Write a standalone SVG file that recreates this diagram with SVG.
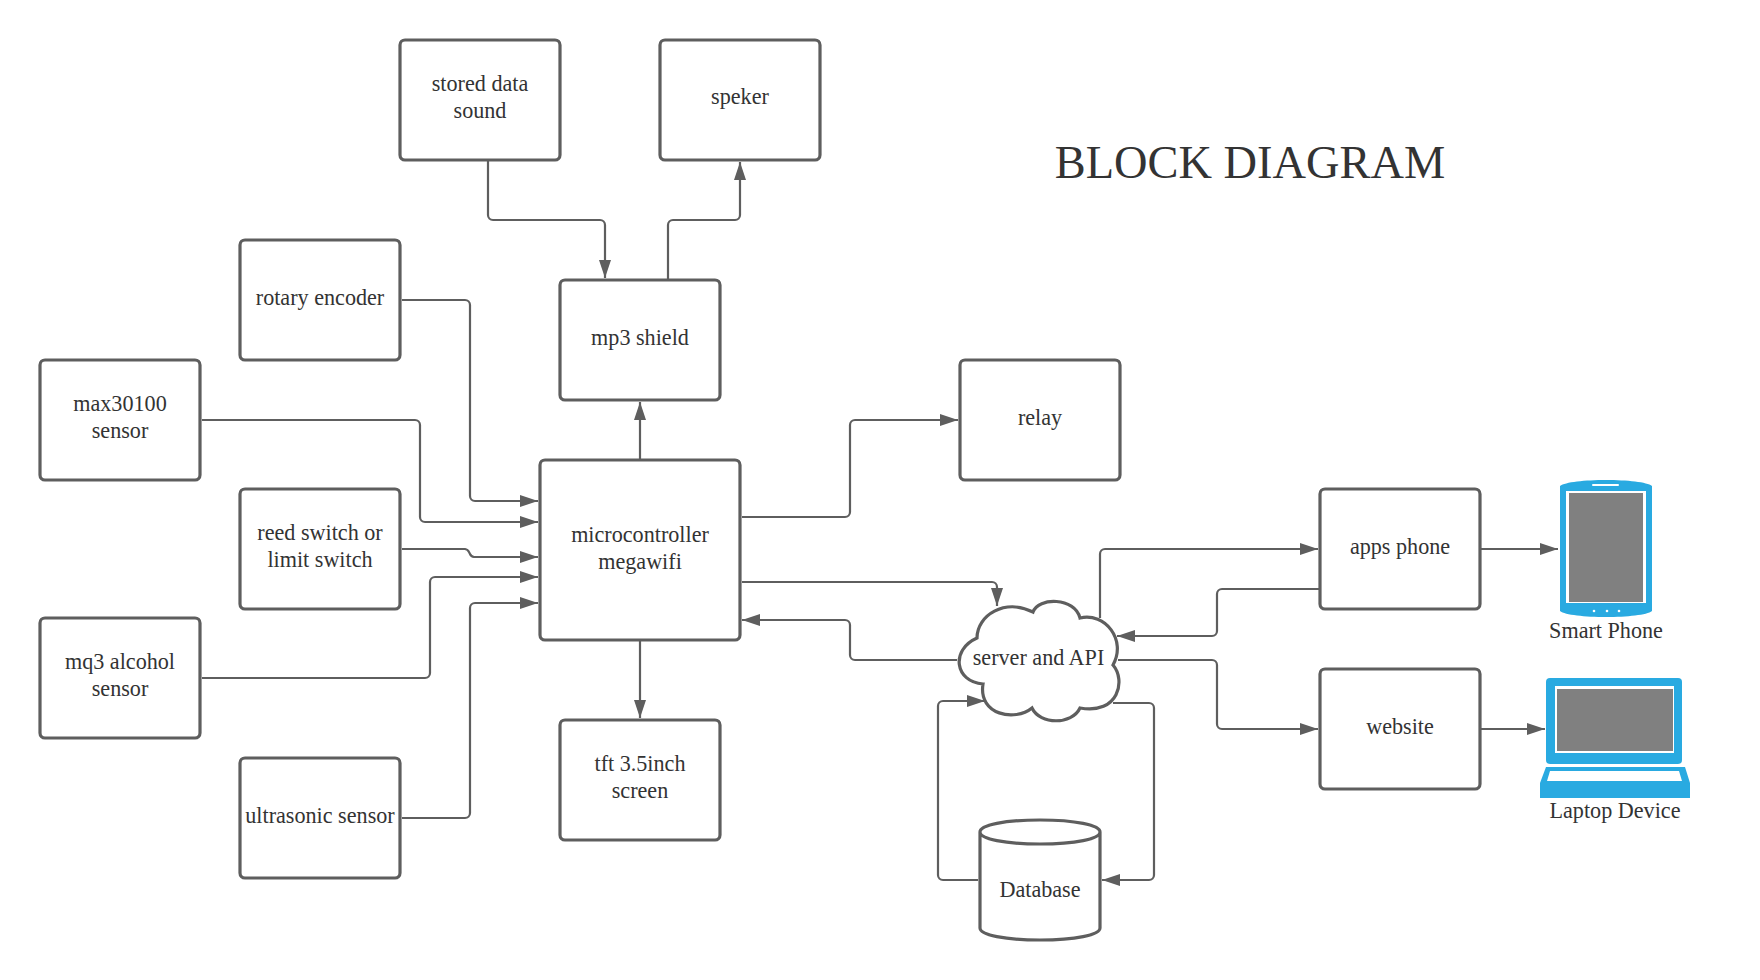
<svg xmlns="http://www.w3.org/2000/svg" width="1760" height="980" viewBox="0 0 1760 980">
<style>
text{font-family:"Liberation Serif","Times New Roman",serif;font-size:22.15px;fill:#333;text-anchor:middle}
.b{fill:#fff;stroke:#5e5e5e;stroke-width:3.2}
.c{fill:none;stroke:#5e5e5e;stroke-width:2.2;stroke-linejoin:round}
.a{marker-end:url(#ah)}
.blue{fill:#29aae1}.w{fill:#fff}.g{fill:#808080}
</style>
<defs><marker id="ah" markerUnits="userSpaceOnUse" markerWidth="18" markerHeight="12" refX="18" refY="6" orient="auto"><path d="M0 0L18 6L0 12Z" fill="#5e5e5e"/></marker></defs>
<rect width="1760" height="980" fill="#fff"/>
<g id="connectors">
<path class="c a" d="M488 161V215a5 5 0 0 0 5 5H600a5 5 0 0 1 5 5V278"/>
<path class="c a" d="M668 280V225a5 5 0 0 1 5-5H735a5 5 0 0 0 5-5V162"/>
<path class="c a" d="M402 300H465a5 5 0 0 1 5 5V496a5 5 0 0 0 5 5H538"/>
<path class="c a" d="M202 420H415a5 5 0 0 1 5 5V517a5 5 0 0 0 5 5H538"/>
<path class="c a" d="M402 549H465a5 5 0 0 1 4 3l1 2a5 5 0 0 0 4 3H538"/>
<path class="c a" d="M202 678H425a5 5 0 0 0 5-5V582a5 5 0 0 1 5-5H538"/>
<path class="c a" d="M402 818H465a5 5 0 0 0 5-5V608a5 5 0 0 1 5-5H538"/>
<path class="c a" d="M640 459V402"/>
<path class="c a" d="M640 641V718"/>
<path class="c a" d="M742 517H845a5 5 0 0 0 5-5V425a5 5 0 0 1 5-5H958"/>
<path class="c a" d="M742 582H992a5 5 0 0 1 5 5V606"/>
<path class="c a" d="M957 660H855a5 5 0 0 1-5-5V625a5 5 0 0 0-5-5H742"/>
<path class="c a" d="M1100 618V554a5 5 0 0 1 5-5H1318"/>
<path class="c a" d="M1320 589H1222a5 5 0 0 0-5 5V631a5 5 0 0 1-5 5H1117"/>
<path class="c a" d="M1118 660H1212a5 5 0 0 1 5 5V724a5 5 0 0 0 5 5H1318"/>
<path class="c a" d="M1481 549H1558"/>
<path class="c a" d="M1481 729H1545"/>
<path class="c a" d="M978 880H943a5 5 0 0 1-5-5V706a5 5 0 0 1 5-5H985"/>
<path class="c a" d="M1113 703H1149a5 5 0 0 1 5 5V875a5 5 0 0 1-5 5H1102"/>
</g>
<g id="stored"><rect class="b" x="400" y="40" width="160" height="120" rx="5"/><text x="480" y="91">stored data</text><text x="480" y="118">sound</text></g>
<g id="speker"><rect class="b" x="660" y="40" width="160" height="120" rx="5"/><text x="740" y="104">speker</text></g>
<g id="rotary"><rect class="b" x="240" y="240" width="160" height="120" rx="5"/><text x="320" y="305">rotary encoder</text></g>
<g id="mp3"><rect class="b" x="560" y="280" width="160" height="120" rx="5"/><text x="640" y="345">mp3 shield</text></g>
<g id="max"><rect class="b" x="40" y="360" width="160" height="120" rx="5"/><text x="120" y="411">max30100</text><text x="120" y="438">sensor</text></g>
<g id="reed"><rect class="b" x="240" y="489" width="160" height="120" rx="5"/><text x="320" y="540">reed switch or</text><text x="320" y="567">limit switch</text></g>
<g id="mq3"><rect class="b" x="40" y="618" width="160" height="120" rx="5"/><text x="120" y="669">mq3 alcohol</text><text x="120" y="696">sensor</text></g>
<g id="ultra"><rect class="b" x="240" y="758" width="160" height="120" rx="5"/><text x="320" y="823">ultrasonic sensor</text></g>
<g id="micro"><rect class="b" x="540" y="460" width="200" height="180" rx="5"/><text x="640" y="542">microcontroller</text><text x="640" y="569">megawifi</text></g>
<g id="tft"><rect class="b" x="560" y="720" width="160" height="120" rx="5"/><text x="640" y="771">tft 3.5inch</text><text x="640" y="798">screen</text></g>
<g id="relay"><rect class="b" x="960" y="360" width="160" height="120" rx="5"/><text x="1040" y="425">relay</text></g>
<g id="apps"><rect class="b" x="1320" y="489" width="160" height="120" rx="5"/><text x="1400" y="554">apps phone</text></g>
<g id="website"><rect class="b" x="1320" y="669" width="160" height="120" rx="5"/><text x="1400" y="734">website</text></g>
<g id="server"><path class="b" d="M977 638C977 615 1005 598 1033 612C1038 597 1075 597 1080 618C1105 612 1127 640 1113 665C1126 680 1119 715 1080 708C1072 725 1040 725 1032 708C1015 722 978 715 983 684C955 682 950 650 977 638Z"/><text x="1038.5" y="665">server and API</text></g>
<g id="database"><path class="b" d="M980 832V928C980 935 1005 940 1040 940S1100 935 1100 928V832C1100 825 1075 820 1040 820S980 825 980 832C980 839 1005 844 1040 844S1100 839 1100 832"/><text x="1040" y="897">Database</text></g>
<g id="phone"><path class="blue" d="M1560 486C1565 482 1585 480 1606 480S1647 482 1652 486V611C1647 615 1627 617 1606 617S1565 615 1560 611Z"/><rect class="w" x="1566" y="491" width="80" height="112"/><rect class="g" x="1569" y="493" width="74" height="109"/><rect class="w" x="1592" y="484" width="27" height="2" rx="1"/><circle class="w" cx="1594" cy="611" r="1.3"/><circle class="w" cx="1607" cy="611" r="1.3"/><circle class="w" cx="1619" cy="611" r="1.3"/><text x="1606" y="638">Smart Phone</text></g>
<g id="laptop"><rect class="blue" x="1546" y="678" width="136" height="86" rx="4"/><rect class="w" x="1555" y="686" width="119" height="67"/><rect class="g" x="1557" y="689" width="116" height="62"/><path class="blue" d="M1546 767H1685L1690 783V798H1540V783Z"/><path class="w" d="M1550 771H1679L1682 781H1547Z"/><text x="1615" y="818">Laptop Device</text></g>
<text id="title" x="1250" y="178" style="font-size:46.4px">BLOCK DIAGRAM</text>
</svg>
